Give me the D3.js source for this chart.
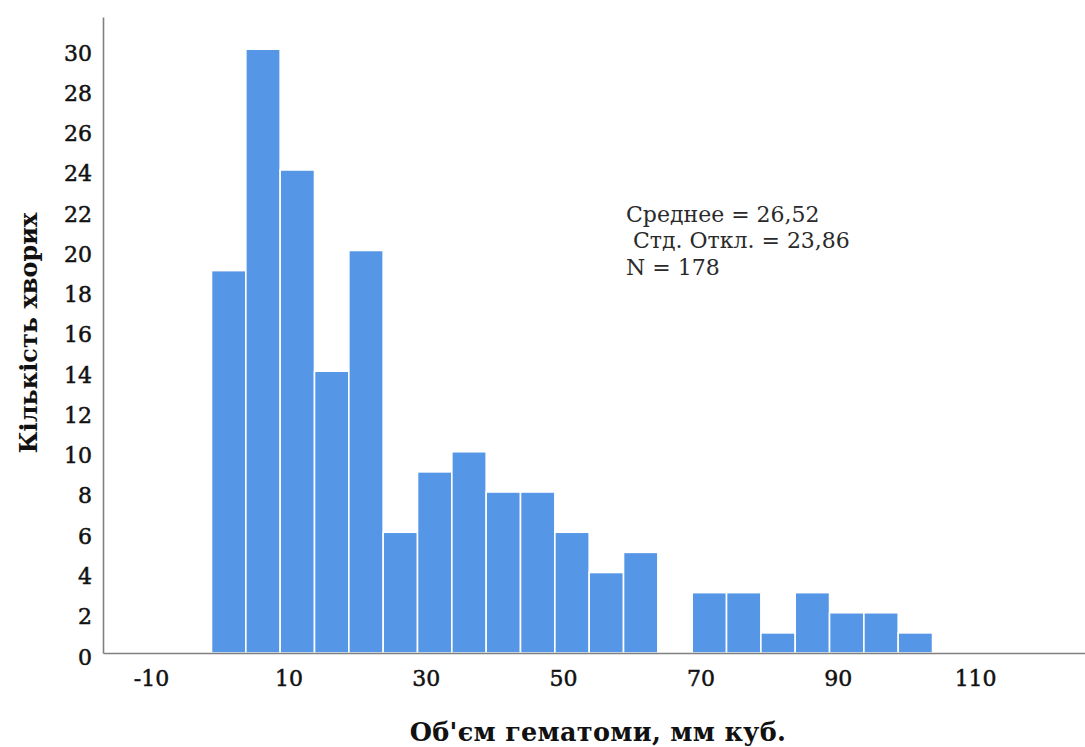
<!DOCTYPE html>
<html>
<head>
<meta charset="utf-8">
<script src="https://cdn.jsdelivr.net/npm/d3@7"></script>
<style>
  html, body { margin: 0; padding: 0; background: #ffffff; }
  svg { display: block; }
</style>
</head>
<body>
<svg id="chart" width="1085" height="747"></svg>
<script>
// Histogram of haematoma volume: counts per 5-unit bin
const binStart = -1.2;
const binWidth = 5;
const counts = [19, 30, 24, 14, 20, 6, 9, 10, 8, 8, 6, 4, 5, 0, 3, 3, 1, 3, 2, 2, 1];
const xTicks = [-10, 10, 30, 50, 70, 90, 110];
const yTicks = [0, 2, 4, 6, 8, 10, 12, 14, 16, 18, 20, 22, 24, 26, 28, 30];
const statsLines = ["Среднее = 26,52", " Стд. Откл. = 23,86", "N = 178"];
const xTitle = "Об'єм гематоми, мм куб.";
const yTitle = "Кількість хворих";

const bins = counts.map((c, i) => ({
  x0: binStart + i * binWidth,
  x1: binStart + (i + 1) * binWidth,
  count: c
}));

const svg = d3.select("#chart");
const plotLeft = 103, plotRight = 1085, plotTop = 17, plotBottom = 653;

const x = d3.scaleLinear().domain([-17, 126]).range([plotLeft, plotRight]);
const y = d3.scaleLinear().domain([0, 31.6]).range([plotBottom, plotTop]);

const serifFont = "'DejaVu Serif', serif";

// bars
svg.append("g")
  .selectAll("rect")
  .data(bins.filter(d => d.count > 0))
  .join("rect")
  .attr("x", d => x(d.x0))
  .attr("y", d => y(d.count))
  .attr("width", d => x(d.x1) - x(d.x0))
  .attr("height", d => y(0) - y(d.count))
  .attr("fill", "#5596e6")
  .attr("stroke", "#ffffff")
  .attr("stroke-width", 1.6);

// axes
const xAxis = svg.append("g")
  .attr("transform", `translate(0,${plotBottom})`)
  .call(d3.axisBottom(x).tickValues(xTicks).tickSize(0).tickPadding(17).tickFormat(d => String(d)));
const yAxis = svg.append("g")
  .attr("transform", `translate(${plotLeft},0)`)
  .call(d3.axisLeft(y).tickValues(yTicks).tickSize(0).tickPadding(11).tickFormat(d => String(d)));

[xAxis, yAxis].forEach(g => {
  g.select(".domain").attr("stroke", "#808080").attr("stroke-width", 1.6);
  g.selectAll("text")
    .attr("fill", "#111")
    .attr("stroke", "#111")
    .attr("stroke-width", 0.5)
    .style("font-family", serifFont)
    .style("font-size", "22px");
});
xAxis.selectAll("text").attr("dy", "0.71em");
yAxis.selectAll("text").attr("dy", "0.5em");

// axis titles
svg.append("text")
  .attr("x", 598).attr("y", 741)
  .attr("text-anchor", "middle")
  .style("font-family", serifFont)
  .style("font-size", "25.5px")
  .style("letter-spacing", "0.3px")
  .style("font-weight", "bold")
  .attr("fill", "#111")
  .text(xTitle);

svg.append("text")
  .attr("transform", "translate(37,333) rotate(-90)")
  .attr("text-anchor", "middle")
  .style("font-family", serifFont)
  .style("font-size", "24px")
  .style("font-weight", "bold")
  .attr("fill", "#111")
  .text(yTitle);

// summary statistics
svg.append("g")
  .selectAll("text")
  .data(statsLines)
  .join("text")
  .attr("x", 626)
  .attr("y", (d, i) => 221.5 + i * 26.5)
  .attr("xml:space", "preserve")
  .style("white-space", "pre")
  .style("font-family", serifFont)
  .style("font-size", "22px")
  .attr("fill", "#2a2a2a")
  .text(d => d);
</script>
</body>
</html>
